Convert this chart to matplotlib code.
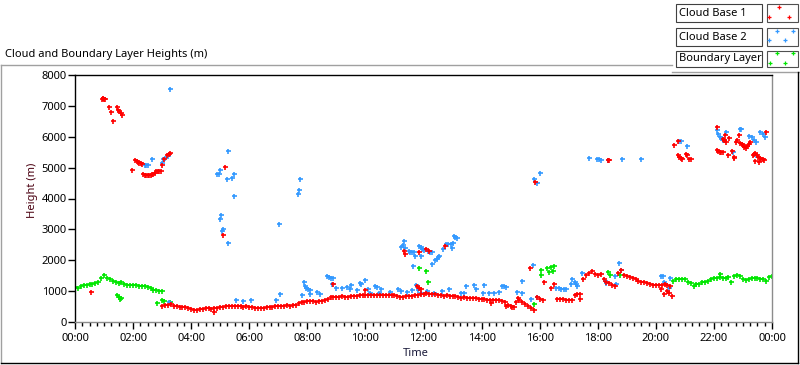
import matplotlib
matplotlib.use("Agg")
import matplotlib.pyplot as plt
import numpy as np
from matplotlib.lines import Line2D
from matplotlib.patches import Rectangle

plt.rcParams['font.family'] = ['Noto Sans', 'DejaVu Sans']

# ---- data (time in hours, height in m) ----
# boundary layer, 6-minute samples
bl_early_t = np.round(np.arange(0.0, 3.05, 0.1), 2)
bl_early_h = [1120, 1100, 1180, 1200, 1190, 1220, 1230, 1250, 1280, 1430,
              1520, 1440, 1380, 1330, 1290, 1250, 1280, 1230, 1200, 1210,
              1200, 1190, 1180, 1170, 1180, 1120, 1100, 1050, 1030, 1020, 1000]
bl_late_t = np.round(np.arange(20.8, 24.05, 0.1), 2)
bl_late_h = [1390, 1400, 1380, 1300, 1260, 1180, 1220, 1230, 1280, 1300,
             1320, 1380, 1420, 1410, 1450, 1440, 1430, 1460, 1300, 1500,
             1520, 1480, 1380, 1360, 1400, 1440, 1430, 1420, 1380, 1400,
             1330, 1450, 1500]
bl_extra_t = [1.45, 1.5, 1.55, 1.6, 2.83, 3.0, 3.05, 3.28, 11.86, 12.07, 12.16,
              15.8, 16.03, 16.05, 16.26, 16.32, 16.38, 16.45, 16.5,
              18.36, 18.43, 18.77, 20.6, 20.7, 22.2]
bl_extra_h = [880, 800, 760, 780, 620, 720, 690, 650, 1745, 1650, 1300,
              575, 1680, 1530, 1765, 1605, 1790, 1660, 1820,
              1605, 1520, 1530, 1330, 1400, 1560]

# cloud base 1, main low layer
cb1_main_t = np.round(np.arange(3.0, 20.55, 0.1), 2)
cb1_main_h = [520, 560, 540, 570, 530, 520, 500, 480, 470, 460,
              430, 400, 390, 420, 430, 440, 450, 430, 440, 440,
              480, 500, 520, 510, 530, 520, 510, 520, 500, 510,
              500, 470, 450, 440, 460, 450, 470, 480, 500, 520,
              520, 530, 520, 540, 530, 550, 560, 600, 640, 660,
              670, 680, 670, 660, 670, 680, 720, 760, 800, 810,
              820, 800, 830, 820, 810, 840, 850, 840, 860, 880,
              870, 880, 890, 870, 880, 870, 880, 890, 870, 880,
              860, 840, 820, 810, 840, 850, 840, 860, 880, 910,
              920, 930, 920, 910, 900, 880, 860, 850, 860, 850,
              840, 830, 800, 790, 800, 780, 790, 770, 780, 760,
              750, 730, 720, 720, 710, 720, 700, 690, 640, 560,
              520, 480, 640, 700, 650, 580, 520, 450, 380, 820,
              760, 700, np.nan, np.nan, np.nan, np.nan, 760, 740, 730, 720,
              710, 700, 880, 920, 900, 1400, 1520, 1580, 1640, 1560,
              1520, 1540, 1400, 1300, 1250, 1200, 1150, 1600, 1700, 1520,
              1480, 1450, 1420, 1400, 1320, 1280, 1290, 1260, 1230, 1200,
              1210, 1190, 1200, 1220, 1200, 1180]
# cloud base 1, scattered returns
cb1_sc_t = [0.55, 0.92, 0.95, 0.98, 1.0, 1.03, 1.18, 1.23, 1.32, 1.44, 1.48, 1.53, 1.57, 1.61,
            1.95, 2.07, 2.12, 2.17, 2.22, 2.27, 2.3, 2.35, 2.4, 2.45, 2.5, 2.55, 2.6, 2.65,
            2.7, 2.75, 2.8, 2.85, 2.9, 2.95, 2.99, 3.05, 3.16, 3.22, 3.28,
            4.77, 5.09, 5.17, 8.88, 9.97,
            11.32, 11.37, 11.84, 12.07, 12.18, 12.73, 11.78, 11.85, 11.92,
            14.31, 14.85, 15.06, 15.26, 15.67, 15.83, 16.15, 16.4, 16.5, 17.4,
            18.35, 18.4, 20.17, 20.29, 20.4, 20.46, 20.57,
            20.63, 20.78, 20.75, 20.8, 20.85, 20.9, 21.03, 21.08, 21.13, 21.2,
            22.09, 22.1, 22.15, 22.2, 22.25, 22.3, 22.3, 22.35, 22.4, 22.39, 22.53,
            22.5, 22.62, 22.7, 22.68,
            22.75, 22.8, 22.85, 22.9, 22.95, 23.0, 23.05, 23.1, 23.15, 23.2, 23.25,
            23.33, 23.38, 23.43, 23.48, 23.53, 23.58, 23.63, 23.68, 23.73,
            23.4, 23.55, 23.8]
cb1_sc_h = [975, 7230, 7260, 7240, 7210, 7230, 6950, 6800, 6500, 6970, 6880, 6820, 6780, 6720,
            4910, 5235, 5200, 5180, 5160, 5140, 5130, 4800, 4760, 4750, 4760, 4750, 4760, 4800,
            4780, 4820, 4880, 4900, 4900, 4900, 5070, 5290, 5420, 5450, 5480,
            330, 2820, 5030, 1225, 1030,
            2300, 2200, 2255, 2365, 2300, 2460, 1170, 1100, 1060,
            620, 520, 490, 790, 1745, 4550, 1280, 1115, 1230, 750,
            5260, 5260, 1060, 900, 1000, 950, 845,
            5720, 5870, 5400, 5350, 5300, 5290, 5450, 5420, 5290, 5290,
            6300, 5560, 5540, 5520, 5500, 5520, 5940, 5880, 5830, 6070, 5975,
            5400, 5530, 5320, 5360,
            5830, 5900, 6050, 5800, 5760, 5720, 5680, 5650, 5700, 5780, 5830,
            5400, 5430, 5460, 5420, 5350, 5300, 5280, 5270, 5260,
            5200, 5190, 6170]

# cloud base 2
cb2_t = [2.4, 2.45, 2.5, 2.64, 2.99, 3.03, 3.1, 3.2, 3.28, 3.25,
         4.9, 4.95, 5.0, 5.28, 5.23, 5.4, 5.48, 5.46, 5.0, 5.03, 5.07, 5.1, 5.26,
         5.55, 5.78, 6.06, 6.92, 7.07, 7.01, 7.76, 7.72, 7.68,
         7.82, 7.9, 7.93, 7.97, 8.03, 8.1, 8.1, 8.33, 8.42,
         8.68, 8.75, 8.82, 8.9, 8.84, 8.97, 9.2, 9.37, 9.48, 9.5, 9.71, 9.83, 9.85, 9.97,
         10.1, 10.15, 10.34, 10.4, 10.52, 10.48, 10.86, 11.13, 11.24, 11.44, 11.6, 11.75,
         11.8, 11.92, 12.13, 12.36, 12.64, 12.87, 13.28, 13.4, 13.48, 13.74, 13.8,
         14.06, 14.1, 14.25, 14.42, 14.6, 14.72, 14.77, 14.83, 15.23, 15.4, 15.4,
         15.71, 15.77, 15.9,
         11.21, 11.29, 11.32, 11.35, 11.5, 11.55, 11.6, 11.67, 11.7, 11.63, 11.84, 11.9,
         11.95, 12.03, 11.93, 12.15, 12.22, 12.3, 12.3, 12.4, 12.45, 12.5, 12.55, 12.68,
         12.76, 12.85, 12.93, 12.97, 13.05, 13.1, 13.16, 13.0,
         15.8, 16.0, 15.9,
         16.55, 16.65, 16.75, 16.85, 16.9, 17.07, 17.13, 17.2, 17.24, 17.3, 17.47,
         17.7, 17.99, 18.05, 18.1, 18.35, 18.85, 19.48,
         18.24, 18.3, 18.62, 18.6, 18.74, 18.8,
         20.17, 20.25, 20.29, 20.49, 20.46, 20.8, 20.86, 21.06,
         22.1, 22.15, 22.2, 22.25, 22.3, 22.35, 22.43, 22.9, 22.93, 23.2, 23.3, 23.38,
         23.45, 23.45, 23.6, 23.68, 23.75, 22.64]
cb2_h = [5095, 5095, 5095, 5290, 5160, 5270, 5320, 5365, 7535, 650,
         4780, 4800, 4910, 5530, 4640, 4670, 4800, 4090, 3350, 3450, 2960, 3020, 2560,
         705, 670, 705, 705, 900, 3180, 4640, 4260, 4130,
         870, 1280, 1170, 1100, 1060, 1030, 900, 985, 920,
         1495, 1460, 1440, 1420, 1225, 1095, 1095, 1130, 1060, 1200, 1030, 1260, 1225, 1355,
         1060, 950, 1170, 1140, 1060, 940, 985, 1060, 1000, 980, 1030, 1200,
         1040, 950, 990, 950, 990, 1060, 950, 950, 1170, 1200, 1060,
         925, 1200, 950, 950, 980, 1170, 1150, 1140, 980, 1335, 950,
         740, 1850, 820,
         2420, 2490, 2620, 2385, 2285, 2270, 2260, 2255, 2135, 1810, 2470, 2420,
         2380, 2330, 2135, 2285, 2270, 2255, 1885, 2000, 2050, 2100, 2150, 2365,
         2530, 2530, 2530, 2400, 2800, 2760, 2720, 2560,
         4620, 4835, 4510,
         1115, 1100, 1080, 1060, 1070, 1225, 1390, 1280, 1225, 1170, 1585,
         5320, 5290, 5270, 5260, 5260, 5290, 5290,
         1335, 1260, 1225, 1495, 1910, 1680,
         1495, 1495, 1280, 1440, 1115, 5850, 5850, 5690,
         6210, 6100, 6000, 5950, 5900, 5885, 6170, 6265, 6265, 6015, 5990, 5900,
         5830, 5420, 6160, 6100, 5990, 5500]

series_names = ['Cloud Base 1', 'Cloud Base 2', 'Boundary Layer']
series_colors = ['#ff0000', '#3399ff', '#00e600']

W, H = 800, 365


def fx(x):
    return x / W


def fy(y):
    return 1 - y / H


fig = plt.figure(figsize=(W / 100, H / 100), dpi=100)
fig.patch.set_facecolor('white')

# outer control frame
frame = [((1, 65), (672, 65), '#a0a0a0'), ((1, 65), (1, 363), '#a0a0a0'),
         ((672, 72), (799, 72), '#a0a0a0'), ((1, 363), (798, 363), 'black'),
         ((798, 72), (798, 363), 'black')]
for (x0, y0), (x1, y1), c in frame:
    fig.add_artist(Line2D([fx(x0), fx(x1)], [fy(y0), fy(y1)], color=c, lw=1,
                          transform=fig.transFigure))

ax = fig.add_axes([fx(75), fy(322), fx(772) - fx(75), fy(75) - fy(322)])
mk = dict(linestyle='none', marker='+', ms=3.6, mew=1.2)
ax.plot(bl_early_t, bl_early_h, color=series_colors[2], **mk)
ax.plot(bl_late_t, bl_late_h, color=series_colors[2], **mk)
ax.plot(bl_extra_t, bl_extra_h, color=series_colors[2], **mk)
ax.plot(cb2_t, cb2_h, color=series_colors[1], **mk)
ax.plot(cb1_main_t, cb1_main_h, color=series_colors[0], **mk)
ax.plot(cb1_sc_t, cb1_sc_h, color=series_colors[0], **mk)

ax.set_xlim(0, 24)
ax.set_ylim(0, 8000)
ax.set_xticks(np.arange(0, 25, 2))
ax.set_xticks(np.arange(0, 24.01, 0.25), minor=True)
ax.set_xticklabels(['%02d:00' % (h % 24) for h in range(0, 25, 2)])
ax.set_yticks(np.arange(0, 8001, 1000))
ax.tick_params(axis='both', which='major', direction='out', length=5, width=1,
               labelsize=8, colors='black')
ax.tick_params(axis='x', which='major', pad=3)
ax.tick_params(axis='y', which='major', pad=1)
ax.tick_params(axis='x', which='minor', direction='out', length=3, width=1)
for s in ['top', 'left']:
    ax.spines[s].set_color('black')
for s in ['right', 'bottom']:
    ax.spines[s].set_color('#8c8c8c')
for s in ax.spines.values():
    s.set_linewidth(1)

fig.text(fx(5), fy(55), 'Cloud and Boundary Layer Heights (m)', fontsize=8,
         ha='left', va='center')
fig.text(fx(32), fy(190), 'Height (m)', fontsize=8, rotation=90,
         ha='center', va='center', color='#4a0010')
fig.text(fx(416), fy(354), 'Time', fontsize=8, ha='center', va='center',
         color='#1a1a3a')

# legend boxes
rows = [(4, 22), (28, 46), (51, 67)]
sym_pos = [[(779, 7), (769, 17), (789, 17)],
           [(777, 31), (793, 31), (769, 40), (785, 40)],
           [(777, 53), (793, 53), (770, 63), (785, 63)]]
for name, col, (y0, y1), pts in zip(series_names, series_colors, rows, sym_pos):
    fig.add_artist(Rectangle((fx(676), fy(y1)), fx(762) - fx(676), fy(y0) - fy(y1),
                             facecolor='white', edgecolor='#404040', lw=0.8,
                             transform=fig.transFigure))
    fig.add_artist(Rectangle((fx(767), fy(y1)), fx(798) - fx(767), fy(y0) - fy(y1),
                             facecolor='white', edgecolor='#505050', lw=0.8,
                             transform=fig.transFigure))
    fig.text(fx(679), fy((y0 + y1) / 2), name, fontsize=8, ha='left', va='center')
    fig.add_artist(Line2D([fx(p[0]) for p in pts], [fy(p[1]) for p in pts],
                          color=col, linestyle='none', marker='+', ms=3, mew=0.9,
                          transform=fig.transFigure))

fig.savefig('out.png', dpi=100, facecolor='white')
